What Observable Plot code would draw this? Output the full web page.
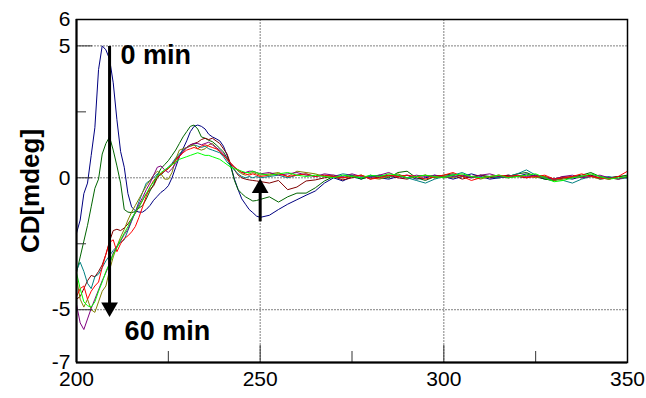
<!DOCTYPE html>
<html><head><meta charset="utf-8">
<script src="https://cdn.jsdelivr.net/npm/d3@7"></script>
<script src="https://cdn.jsdelivr.net/npm/@observablehq/plot@0.6"></script>
<style>body{margin:0;background:#fff}</style>
</head><body><div id="chart"></div>
<script>
// Wavelength (nm) sample positions
const wavelength = [
200,201,202,203,204,205,206,207,208,209,
210,211,212,213,214,215,216,217,218,219,
220,221,222,223,224,225,226,227,228,229,
230,231,232,233,234,235,236,237,238,239,
240,241,242,243,244,245,246,247,248,249,
250,
252.5,255,257.5,260,262.5,265,267.5,270,272.5,275,
277.5,280,282.5,285,287.5,290,292.5,295,297.5,300,
302.5,305,307.5,310,312.5,315,317.5,320,322.5,325,
327.5,330,332.5,335,337.5,340,342.5,345,347.5,350];

const cdNavy = [
-2.1,-1.6,-0.6,-0.2,0.85,1.9,4.1,5.0,4.85,4.5,
3.6,2.2,1.0,0.4,-0.6,-1.1,-1.25,-1.3,-1.3,-1.2,
-1.05,-0.85,-0.7,-0.55,-0.45,-0.3,0.0,0.4,0.8,1.1,
1.4,1.75,1.95,2.0,1.95,1.85,1.65,1.55,1.48,1.4,
1.2,0.85,0.45,-0.05,-0.45,-0.8,-1.0,-1.2,-1.32,-1.45,
-1.5,
-1.42,-1.2,-1.0,-0.83,-0.66,-0.5,-0.2,0.0,-0.12,0.05,
-0.05,0.1,0.0,-0.05,0.05,0.1,-0.05,0.0,0.1,0.05,
-0.05,0.05,0.15,0.05,-0.05,0.0,0.1,0.05,0.15,0.05,
-0.05,-0.1,0.0,-0.05,0.05,0.1,-0.05,0.0,0.05,0.0];

const cdDarkGreen = [
-3.6,-3.0,-2.4,-1.8,-1.1,-0.4,-0.05,0.9,1.3,1.55,
1.05,0.45,-0.2,-1.2,-1.3,-1.32,-1.28,-1.15,-1.05,-0.8,
-0.5,-0.25,0.1,0.35,0.5,0.65,0.85,1.05,1.3,1.55,
1.75,1.95,2.0,1.85,1.55,1.5,1.42,1.37,1.25,1.12,
0.98,0.75,0.43,-0.1,-0.45,-0.6,-0.72,-0.8,-0.88,-0.86,
-0.82,
-0.72,-0.92,-0.72,-0.58,-0.58,-0.38,-0.12,0.05,0.0,0.1,
-0.05,0.05,0.1,0.0,0.2,0.25,0.0,-0.1,0.05,0.1,
0.15,0.05,0.0,0.1,0.05,0.0,0.05,0.15,0.2,0.05,
-0.05,-0.1,0.0,0.05,0.1,0.2,0.05,0.0,0.05,0.1];

const cdMaroon = [
-4.6,-4.5,-4.2,-3.9,-3.7,-3.75,-3.55,-3.3,-2.9,-2.4,
-2.0,-1.95,-2.0,-1.9,-1.75,-1.55,-1.35,-1.1,-0.85,-0.6,
-0.45,-0.3,0.0,0.15,0.25,0.35,0.5,0.7,0.85,1.0,
1.15,1.25,1.3,1.35,1.45,1.5,1.45,1.5,1.4,1.3,
1.1,0.9,0.5,0.3,0.1,0.0,-0.05,-0.08,-0.1,-0.12,
-0.14,
-0.2,-0.1,-0.45,-0.35,-0.12,-0.08,0.0,0.05,-0.08,0.0,
0.1,-0.05,0.05,0.1,0.0,-0.05,0.05,0.1,0.0,0.05,
0.1,-0.05,0.05,0.1,0.0,0.05,0.1,0.05,0.0,0.1,
0.05,-0.05,0.05,0.0,0.05,0.1,0.0,-0.05,0.05,0.0];

const cdTeal = [
-3.5,-3.2,-3.55,-4.0,-4.2,-3.75,-3.65,-3.4,-3.15,-2.95,
-2.75,-2.6,-2.45,-2.35,-2.0,-1.65,-1.3,-0.9,-0.55,-0.2,
-0.1,0.0,0.15,0.1,0.25,0.4,0.55,0.75,0.9,1.05,
1.15,1.2,1.25,1.2,1.15,1.2,1.1,1.05,1.0,0.95,
0.8,0.6,0.45,0.3,0.15,0.05,0.0,0.05,0.0,0.05,
0.0,
0.05,0.1,0.0,0.1,0.15,0.05,0.1,0.05,0.15,0.1,
0.0,0.05,0.1,0.05,0.1,0.0,-0.1,-0.2,-0.05,0.05,
0.1,0.2,0.05,0.0,0.05,0.0,0.05,0.15,0.3,0.1,
0.0,-0.05,-0.1,-0.2,-0.05,0.05,0.0,0.05,-0.05,0.0];

const cdOlive = [
-3.8,-4.6,-4.9,-4.6,-5.0,-5.1,-4.7,-4.3,-4.1,-3.5,
-3.0,-2.6,-2.25,-1.95,-1.6,-1.3,-1.05,-0.8,-0.55,-0.3,
-0.1,0.1,0.25,0.15,-0.05,-0.05,0.2,0.7,1.05,1.1,
1.15,1.2,1.25,1.1,1.05,1.1,1.25,1.3,1.15,1.0,
0.85,0.7,0.55,0.4,0.25,0.15,0.1,0.15,0.2,0.15,
0.1,
0.15,0.2,0.05,0.25,0.2,0.15,0.05,0.1,0.0,0.05,
0.1,0.0,-0.05,0.05,0.15,0.0,0.05,0.1,0.0,0.05,
0.0,0.1,0.05,-0.05,0.05,0.1,0.0,0.05,0.1,0.0,
0.05,-0.1,-0.05,0.05,0.0,0.05,-0.05,0.0,-0.05,0.05];

const cdPurple = [
-4.8,-5.5,-5.75,-5.35,-4.95,-4.6,-4.25,-3.9,-3.6,-3.25,
-2.85,-2.6,-2.4,-2.15,-1.95,-1.6,-1.3,-1.0,-0.75,-0.45,
-0.2,0.1,0.4,0.45,0.3,0.2,0.35,0.55,0.8,1.0,
1.15,1.25,1.3,1.3,1.25,1.3,1.35,1.25,1.15,1.05,
0.9,0.7,0.55,0.4,0.3,0.2,0.2,0.25,0.25,0.2,
0.15,
0.2,0.1,0.15,0.2,0.1,0.05,0.15,0.1,0.05,0.15,
0.05,0.0,0.1,0.2,0.05,0.0,0.1,0.05,0.1,0.0,
0.05,0.1,0.0,0.1,0.15,0.05,0.0,0.1,0.05,0.1,
0.0,-0.05,0.05,0.1,0.0,0.05,0.1,0.0,-0.05,0.05];

const cdRed = [
-4.5,-4.2,-4.1,-4.6,-4.3,-4.1,-3.95,-3.4,-2.9,-2.45,
-2.35,-2.8,-2.5,-2.3,-2.2,-2.05,-1.85,-1.5,-1.1,-0.7,
-0.35,-0.1,0.05,0.15,0.25,0.35,0.5,0.65,0.8,0.95,
1.05,1.1,1.15,1.1,1.2,1.25,1.2,1.15,1.1,1.0,
0.85,0.7,0.55,0.4,0.3,0.2,0.15,0.1,0.15,0.1,
0.05,
0.1,0.15,0.05,0.1,0.15,0.05,0.1,0.05,0.0,0.05,
0.1,-0.05,0.0,0.1,0.05,0.1,0.05,-0.05,0.05,0.1,
0.2,0.05,-0.1,0.0,0.05,0.1,0.05,0.1,0.0,0.05,
0.1,-0.05,0.0,0.05,0.15,0.05,0.0,-0.05,0.05,0.25];

const cdLime = [
-3.6,-4.2,-4.7,-4.85,-4.9,-4.7,-4.3,-3.95,-3.55,-3.25,
-2.9,-2.65,-2.35,-2.1,-1.85,-1.55,-1.3,-1.1,-0.85,-0.6,
-0.35,-0.15,0.05,0.2,0.3,0.4,0.5,0.6,0.7,0.75,
0.8,0.85,0.9,0.95,0.9,0.85,0.85,0.8,0.75,0.7,
0.6,0.5,0.4,0.35,0.3,0.25,0.2,0.2,0.25,0.2,
0.15,
0.1,0.15,0.2,0.1,0.05,0.1,0.05,0.0,0.1,0.05,
0.0,0.1,0.05,0.15,0.1,0.0,0.05,0.1,0.05,0.0,
0.1,0.15,0.05,0.0,0.05,0.1,0.0,0.05,0.1,0.15,
0.0,-0.15,-0.1,0.0,0.05,0.15,0.05,-0.05,0.0,0.05];

const seriesNames = ["navy","darkgreen","maroon","teal","olive","purple","red","lime"];
const seriesColors = ["#1a1aa0","#1a8c1a","#8c1010","#1a9696","#999919","#9a1a9a","#ff1010","#19f019"];
const seriesValues = [cdNavy, cdDarkGreen, cdMaroon, cdTeal, cdOlive, cdPurple, cdRed, cdLime];

const xTickLabels = [200, 250, 300, 350];
const xMajorTicks = [250, 300];
const xMinorTicks = [225, 275, 325];
const yTickLabels = [6, 5, 0, -5, -7];
const yMajorTicks = [5, 0, -5];
const yMinorTicks = [2.5, -2.5];
const xGrid = [250, 300];
const yGrid = [5, 0, -5];
const yTitle = "CD[mdeg]";

const annotations = [
  {x: 212.0, y: 4.65, text: "0 min"},
  {x: 213.1, y: -5.83, text: "60 min"}
];
const arrowShafts = [
  {x: 209, y1: 5.0, y2: -4.75},
  {x: 250, y1: -1.65, y2: -0.57}
];
const arrowHeads = [
  {x: 209, y: -4.91, rotate: 180},
  {x: 250, y: -0.39, rotate: 0}
];

const data = seriesValues.flatMap((vals, i) =>
  vals.map((v, j) => ({x: wavelength[j], y: v, s: seriesNames[i]})));

const blank = () => "";
const chart = Plot.plot({
  width: 646, height: 398,
  marginLeft: 76, marginRight: 19, marginTop: 19, marginBottom: 36,
  style: {fontFamily: "Arial, 'Liberation Sans', sans-serif", background: "#fff", color: "#000"},
  x: {domain: [200, 350], axis: null},
  y: {domain: [-7, 6], axis: null},
  color: {domain: seriesNames, range: seriesColors},
  marks: [
    Plot.gridX(xGrid, {stroke: "#808080", strokeOpacity: 1, strokeDasharray: "2,1"}),
    Plot.gridY(yGrid, {stroke: "#808080", strokeOpacity: 1, strokeDasharray: "2,1"}),
    Plot.line(data, {x: "x", y: "y", z: "s", stroke: "s", strokeWidth: 1}),
    Plot.axisX(xTickLabels, {label: null, tickSize: 0, tickPadding: 9, fontSize: 21, tickFormat: d => String(d)}),
    Plot.axisX(xMajorTicks, {label: null, tickSize: 17, dy: -17, tickFormat: blank, stroke: "#333"}),
    Plot.axisX(xMinorTicks, {label: null, tickSize: 11, dy: -11, tickFormat: blank, stroke: "#333"}),
    Plot.axisY(yTickLabels, {label: null, tickSize: 0, tickPadding: 6, fontSize: 21, tickFormat: d => String(d)}),
    Plot.axisY(yMajorTicks, {label: null, tickSize: 16, dx: 16, tickFormat: blank, stroke: "#333"}),
    Plot.axisY(yMinorTicks, {label: null, tickSize: 10, dx: 10, tickFormat: blank, stroke: "#333"}),
    Plot.frame({stroke: "#000", strokeWidth: 1.5}),
    Plot.ruleX([200], {stroke: "#000", strokeWidth: 2}),
    Plot.ruleY([-7], {stroke: "#000", strokeWidth: 2}),
    Plot.text([yTitle], {text: d => d, frameAnchor: "left", textAnchor: "middle", lineAnchor: "middle", rotate: -90, dx: -46, fontSize: 26, fontWeight: "bold", fill: "#000"}),
    Plot.link(arrowShafts, {x1: "x", x2: "x", y1: "y1", y2: "y2", stroke: "#000", strokeWidth: 3}),
    Plot.dot(arrowHeads, {x: "x", y: "y", symbol: "triangle", r: 6.2, fill: "#000", stroke: "none", rotate: "rotate"}),
    Plot.text(annotations, {x: "x", y: "y", text: "text", textAnchor: "start", fontSize: 27, fontWeight: "bold", fill: "#000"})
  ]
});
document.getElementById("chart").appendChild(chart);
</script>
</body></html>
